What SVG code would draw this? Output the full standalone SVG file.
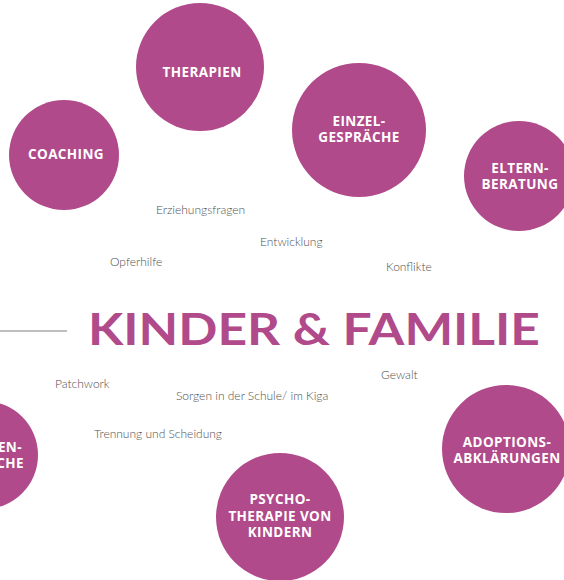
<svg xmlns="http://www.w3.org/2000/svg" width="564" height="580" viewBox="0 0 564 580">
<style>
.c{fill:#B04A8A}
.l{font-family:"Open Sans","Liberation Sans",sans-serif;font-weight:700;font-size:13.5px;letter-spacing:0.4px;fill:#fff;text-anchor:middle}
.w{font-family:"Lato","Liberation Sans",sans-serif;font-weight:300;font-size:12px;fill:#505050}
.t{font-family:"Lato","Open Sans","Liberation Sans",sans-serif;font-weight:700;font-size:44px;fill:#B04A8A}
</style>
<rect width="564" height="580" fill="#fff"/>
<g id="therapien"><circle class="c" cx="200" cy="67" r="64"/><text class="l" x="202" y="77">THERAPIEN</text></g>
<g id="coaching"><circle class="c" cx="64" cy="155" r="55"/><text class="l" x="66" y="159">COACHING</text></g>
<g id="einzel"><circle class="c" cx="359" cy="130" r="67"/><text class="l" x="359" y="126">EINZEL-</text><text class="l" x="359" y="142">GESPRÄCHE</text></g>
<g id="eltern"><circle class="c" cx="519" cy="176" r="55"/><text class="l" x="520" y="173">ELTERN-</text><text class="l" x="520" y="189">BERATUNG</text></g>
<g id="left"><circle class="c" cx="-16" cy="455" r="54"/><text class="l" x="22" y="452" style="text-anchor:end">EN-</text><text class="l" x="24" y="468" style="text-anchor:end">CHE</text></g>
<g id="adoptions"><circle class="c" cx="506" cy="449" r="64"/><text class="l" x="507" y="447">ADOPTIONS-</text><text class="l" x="507" y="463">ABKLÄRUNGEN</text></g>
<g id="psycho"><circle class="c" cx="280" cy="517" r="64"/><text class="l" x="280" y="504">PSYCHO-</text><text class="l" x="280" y="521">THERAPIE VON</text><text class="l" x="280" y="537">KINDERN</text></g>
<g id="connectors"><line x1="0" y1="331" x2="67" y2="331" stroke="#aaa" stroke-width="1.5"/></g>
<g id="title"><text class="t" x="88" y="345" textLength="452" lengthAdjust="spacingAndGlyphs">KINDER &amp; FAMILIE</text></g>
<g id="words">
<text class="w" x="156" y="214">Erziehungsfragen</text>
<text class="w" x="260" y="246">Entwicklung</text>
<text class="w" x="110" y="266">Opferhilfe</text>
<text class="w" x="386" y="271">Konflikte</text>
<text class="w" x="55" y="388">Patchwork</text>
<text class="w" x="381" y="379">Gewalt</text>
<text class="w" x="176" y="400">Sorgen in der Schule/ im Kiga</text>
<text class="w" x="94" y="438">Trennung und Scheidung</text>
</g>
</svg>
